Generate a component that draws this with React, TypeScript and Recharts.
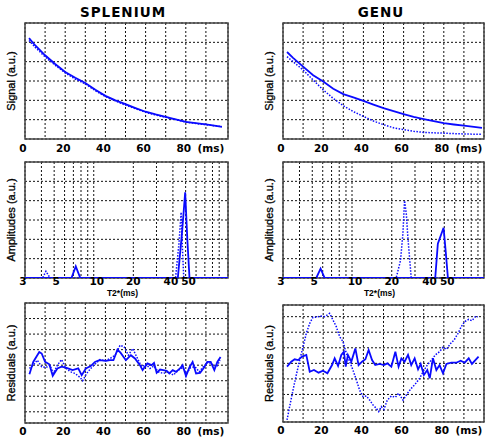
import { LineChart, Line, XAxis, YAxis, CartesianGrid, ReferenceArea, Label } from 'recharts'

const BLUE = '#0a0aff'

// echo signal (ms / a.u.)
const splSigT = [2, 5, 10, 15, 20, 25, 30, 35, 40, 45, 50, 55, 60, 65, 70, 75, 80, 85, 90, 95, 98]
const splSigFit = [5.22, 4.85, 4.33, 3.88, 3.47, 3.17, 2.9, 2.55, 2.23, 2.0, 1.8, 1.6, 1.41, 1.27, 1.15, 1.02, 0.89, 0.82, 0.76, 0.68, 0.63]
const splSigMeas = [5.1, 4.75, 4.25, 3.82, 3.42, 3.1, 2.85, 2.5, 2.2, 1.97, 1.75, 1.57, 1.38, 1.24, 1.12, 1.0, 0.88, 0.8, 0.74, 0.68, 0.64]

const genSigT = [2, 5, 10, 15, 20, 25, 30, 35, 40, 45, 50, 55, 60, 65, 70, 75, 80, 85, 90, 95, 99]
const genSigFit = [4.5, 4.2, 3.74, 3.3, 2.97, 2.6, 2.32, 2.15, 1.97, 1.78, 1.6, 1.44, 1.29, 1.15, 1.03, 0.92, 0.82, 0.75, 0.69, 0.63, 0.58]
const genSigMeas = [4.26, 4.0, 3.57, 3.05, 2.54, 2.1, 1.72, 1.42, 1.17, 0.93, 0.74, 0.58, 0.48, 0.4, 0.34, 0.32, 0.3, 0.28, 0.26, 0.25, 0.25]

// T2* spectra
const splAmpT = [3, 6.77, 7.3, 7.9, 43.6, 47, 49.6, 51.5, 53.5, 105]
const splAmp = [0, 0, 0.6, 0, 0, 2.4, 4.43, 2.0, 0, 0]
const splAmpT2 = [3, 4.08, 4.33, 4.65, 41.9, 44.5, 46.2, 47.3, 48.4, 105]
const splAmp2 = [0, 0, 0.35, 0, 0, 1.8, 3.4, 1.5, 0, 0]

const genAmpT = [3, 5.36, 5.78, 6.21, 42.7, 44.7, 49.4, 51.2, 53.3, 100]
const genAmp = [0, 0, 0.48, 0, 0, 1.77, 2.6, 1.42, 0, 0]
const genAmpT2 = [3, 21.6, 23.3, 24.3, 25.0, 25.8, 26.5, 28.1, 100]
const genAmp2 = [0, 0, 0.9, 2.3, 4.0, 3.3, 2.1, 0, 0]

// residuals
const splResT = [2.2, 4.1, 7.1, 8.3, 10, 12.1, 13.8, 16.1, 18.2, 20.7, 23.7, 26.5, 28.2, 30.3, 32.7, 34.8, 37, 40.3, 42.3, 44, 46, 47.6, 50.2, 52.7, 54.7, 57.2, 58.5, 60.9, 63, 64.2, 65.5, 67.2, 68.8, 70.5, 71.8, 73.5, 75.1, 77.1, 78.4, 80.1, 81.8, 83.4, 85.1, 87.1, 89.1, 90.7, 92.4, 94.2, 95.7, 97.3]
const splRes = [-0.58, 0.21, 0.85, 0.75, 0.21, 0.06, -0.68, -0.21, -0.1, -0.17, -0.32, -0.21, -0.64, -0.21, -0.06, 0.21, 0.32, 0.28, 0.32, 0.32, 1.0, 0.79, 0.32, 0.64, 0.43, 0, -0.32, 0.11, 0, 0.15, -0.49, -0.28, -0.32, -0.36, -0.53, -0.32, -0.43, -0.21, 0, -0.7, -0.15, 0.21, -0.53, -0.49, -0.15, 0.21, 0.21, -0.32, 0.21, 0.53]
const splResT2 = [2.2, 4.1, 6.1, 8.3, 10.4, 12.4, 14.1, 16.1, 18.2, 20.4, 22.7, 24.9, 27.4, 28.7, 30.7, 32.7, 34.8, 37.3, 39.8, 42.3, 44.8, 47.3, 49.3, 51.4, 53.6, 55.6, 58, 60.2, 62.2, 64.2, 66.3, 68.8, 71.3, 73.8, 76.3, 78.4, 80.4, 82.4, 84.6, 86.7, 88.7, 91.2, 93.7, 95.4, 97]
const splRes2 = [-0.21, 0, 0.32, -0.1, -0.15, 0, -0.53, 0, 0.36, -0.21, -0.43, -0.53, -0.79, -1.0, -0.53, -0.21, 0.06, 0.36, 0.28, 0.43, 0.64, 1.28, 1.18, 0.64, 1.07, 0.53, -0.1, 0.06, -0.21, -0.06, -0.43, -0.53, -0.43, -0.64, -0.32, -0.15, -0.53, -0.15, -0.1, -0.43, -0.1, 0.21, 0, -0.1, 0.32]

const genResT = [2, 4.1, 5.8, 7.5, 9.5, 11.6, 13.3, 15.4, 17.7, 19.9, 22.1, 24.4, 25.7, 27.4, 29, 30.3, 31.2, 32.3, 34, 36, 37.6, 39.3, 41, 42.6, 44.3, 45.9, 48.1, 50.2, 51.9, 53.9, 55.9, 57.5, 58.9, 60.5, 62.2, 63.8, 65.5, 67.2, 68.5, 70.1, 71.8, 73, 74.6, 76.3, 77.9, 79.6, 81.3, 83.7, 86.2, 88.4, 90.4, 92.4, 94, 95.7, 97.3]
const genRes = [-0.21, 0.11, 0.26, 0.21, 0.43, 0.54, -0.54, -0.43, -0.6, -0.47, -0.64, -0.11, 0.32, -0.17, 0.54, 0.75, -0.21, 0.54, 0.11, 0.96, -0.11, 0.11, 0.26, 0.86, 0.21, -0.11, -0.04, -0.11, 0, -0.21, 0.75, -0.21, 0.32, 0.11, 0.54, -0.11, 0.32, -0.39, -0.04, -0.75, -0.43, -0.96, 0.32, -0.43, -0.11, -0.64, -0.04, 0.04, 0.04, 0.17, 0.04, 0.32, -0.04, 0.21, 0.43]
const genResT2 = [2, 3.3, 5, 6.6, 8.3, 10, 11.6, 13.3, 14.9, 16.6, 18.7, 20.7, 23.2, 24.9, 26.5, 28.2, 29.9, 31.5, 33.2, 34.8, 36.5, 38.1, 39.8, 41.5, 43.1, 44.8, 46.4, 47.6, 48.9, 50.2, 51.9, 53.9, 55.9, 57.5, 59.7, 61.9, 63.8, 65.8, 68, 69.7, 71.8, 73.8, 75.8, 77.9, 79.6, 81.3, 83.4, 85.1, 87.1, 88.7, 90.4, 92.4, 94, 95.7, 97]
const genRes2 = [-3.64, -2.78, -1.71, -0.75, 0.21, 1.07, 1.93, 2.57, 2.96, 2.96, 3.04, 3.0, 3.21, 2.78, 2.36, 1.71, 1.39, 0.64, 0.11, -0.43, -1.07, -1.71, -2.14, -2.1, -2.36, -2.68, -2.89, -3.1, -2.78, -2.96, -2.36, -2.1, -2.18, -1.93, -2.36, -1.93, -1.61, -1.33, -0.96, -0.54, -0.11, 0.21, 0.54, 0.75, 1.03, 0.9, 1.28, 1.5, 1.93, 2.36, 2.68, 2.83, 2.74, 3.0, 3.0]

const msGrid = [10, 20, 30, 40, 50, 60, 70, 80, 90]
const msLabels = [0, 20, 40, 60, 80, 93.5]
const t2Grid = [4, 5, 6, 7, 8, 9, 10, 20, 30, 40, 50, 60, 70, 80, 90]
const t2Labels = [3, 5, 10, 20, 40, 50]

const zip = (t: number[], v: number[]) => t.map((x, i) => ({ t: x, v: v[i] }))

const YW = 25
const XH = 22
const TOP = 3
const RIGHT = 2

// small nudges so labels sit like the original (log labels were placed by hand there)
const t2Nudge: Record<number, number> = { 3: -2, 5: 2, 10: 3, 20: 0, 40: -2, 50: 3 }

const tickFont = { fontSize: 10.5, fontWeight: 'bold', fill: '#000', fontFamily: 'DejaVu Sans' }

function MsTick(props: any) {
  const { x, y, payload } = props
  const v = payload.value
  return (
    <text x={x} y={y} dx={-2} dy="0.71em" textAnchor="middle" {...tickFont}>
      {v > 90 ? '(ms)' : v}
    </text>
  )
}

function T2Tick(props: any) {
  const { x, y, payload } = props
  const v = payload.value
  return (
    <text x={x} y={y} dx={t2Nudge[v] ?? 0} dy="0.71em" textAnchor="middle" {...tickFont}>
      {v}
    </text>
  )
}

const noTick = () => <g />

interface PanelProps {
  left: number
  top: number
  w: number
  h: number
  xDomain: [number, number]
  yDomain: [number, number]
  log?: boolean
  gridX: number[]
  gridY: number[]
  labelX: number[]
  tickMargin: number
  yLabel: string
  xTitle?: string
  solid: { t: number; v: number }[]
  dotted: { t: number; v: number }[]
}

function Panel(p: PanelProps) {
  const scale = p.log ? 'log' : 'linear'
  return (
    <div style={{ position: 'absolute', left: p.left - YW, top: p.top - TOP }}>
      <LineChart
        width={YW + p.w + RIGHT}
        height={TOP + p.h + XH}
        margin={{ top: TOP, right: RIGHT, bottom: 0, left: 0 }}
      >
        <XAxis
          xAxisId="l"
          type="number"
          dataKey="t"
          scale={scale}
          domain={p.xDomain}
          ticks={p.labelX}
          interval={0}
          allowDataOverflow
          axisLine={false}
          tickLine={false}
          tickSize={0}
          tickMargin={p.tickMargin}
          height={XH}
          tick={p.log ? T2Tick : MsTick}
        >
          {p.xTitle && (
            <Label value={p.xTitle} position="insideBottom" offset={4} dx={-4} style={{ fontSize: 8.5, fontWeight: 'bold', fill: '#000', fontFamily: 'Liberation Sans' }} />
          )}
        </XAxis>
        <XAxis xAxisId="g" type="number" dataKey="t" scale={scale} domain={p.xDomain} ticks={p.gridX} interval={0} allowDataOverflow hide height={0} />
        <YAxis type="number" domain={p.yDomain} ticks={p.gridY} interval={0} width={YW} tick={noTick} axisLine={false} tickLine={false} allowDataOverflow>
          <Label
            value={p.yLabel}
            angle={-90}
            position="insideLeft"
            offset={10.7}
            style={{ textAnchor: 'middle', fontSize: 11, fill: '#000', stroke: '#000', strokeWidth: 0.3, fontFamily: 'Liberation Sans' }}
          />
        </YAxis>
        <CartesianGrid xAxisId="g" stroke="#111" strokeDasharray="2 2" />
        <ReferenceArea
          xAxisId="g"
          x1={p.xDomain[0]}
          x2={p.xDomain[1]}
          y1={p.yDomain[0]}
          y2={p.yDomain[1]}
          fill="none"
          stroke="#444"
          strokeWidth={1.5}
        />
        <Line xAxisId="g" data={p.dotted} dataKey="v" type="linear" stroke={BLUE} strokeWidth={1.5} strokeDasharray="1.5 1.5" dot={false} isAnimationActive={false} />
        <Line xAxisId="g" data={p.solid} dataKey="v" type="linear" stroke={BLUE} strokeWidth={1.8} dot={false} isAnimationActive={false} />
      </LineChart>
    </div>
  )
}

const titleStyle = {
  position: 'absolute' as const,
  top: 4,
  fontFamily: 'DejaVu Sans',
  fontWeight: 'bold',
  fontSize: 13.5,
  letterSpacing: 1,
  lineHeight: '16px',
  transform: 'translateX(-50%)',
  whiteSpace: 'nowrap' as const,
}

export default function App() {
  const sig = [1, 2, 3, 4, 5]
  const res = [-3, -2, -1, 0, 1, 2, 3]
  return (
    <div style={{ position: 'absolute', left: 0, top: 0, width: 485, height: 441, overflow: 'hidden', background: '#fff' }}>
      <div style={{ ...titleStyle, left: 123 }}>SPLENIUM</div>
      <div style={{ ...titleStyle, left: 381 }}>GENU</div>

      <Panel left={25} top={23} w={203} h={116} xDomain={[0, 101]} yDomain={[0, 6]} gridX={msGrid} gridY={sig}
        labelX={msLabels} tickMargin={6} yLabel="Signal (a.u.)"
        solid={zip(splSigT, splSigFit)} dotted={zip(splSigT, splSigMeas)} />
      <Panel left={283} top={23} w={201} h={116} xDomain={[0, 100]} yDomain={[0, 6]} gridX={msGrid} gridY={sig}
        labelX={msLabels} tickMargin={6} yLabel="Signal (a.u.)"
        solid={zip(genSigT, genSigFit)} dotted={zip(genSigT, genSigMeas)} />

      <Panel left={25} top={162} w={203} h={116} xDomain={[3, 105]} yDomain={[0, 6]} log gridX={t2Grid} gridY={sig}
        labelX={t2Labels} tickMargin={0} yLabel="Amplitudes (a.u.)" xTitle="T2*(ms)"
        solid={zip(splAmpT, splAmp)} dotted={zip(splAmpT2, splAmp2)} />
      <Panel left={283} top={162} w={201} h={116} xDomain={[3, 100]} yDomain={[0, 6]} log gridX={t2Grid} gridY={sig}
        labelX={t2Labels} tickMargin={0} yLabel="Amplitudes (a.u.)" xTitle="T2*(ms)"
        solid={zip(genAmpT, genAmp)} dotted={zip(genAmpT2, genAmp2)} />

      <Panel left={25} top={303} w={203} h={120} xDomain={[0, 101]} yDomain={[-3.72, 4]} gridX={msGrid} gridY={res}
        labelX={msLabels} tickMargin={5} yLabel="Residuals (a.u.)"
        solid={zip(splResT, splRes)} dotted={zip(splResT2, splRes2)} />
      <Panel left={283} top={305} w={201} h={117} xDomain={[0, 100]} yDomain={[-3.77, 3.75]} gridX={msGrid} gridY={res}
        labelX={msLabels} tickMargin={5} yLabel="Residuals (a.u.)"
        solid={zip(genResT, genRes)} dotted={zip(genResT2, genRes2)} />
    </div>
  )
}
